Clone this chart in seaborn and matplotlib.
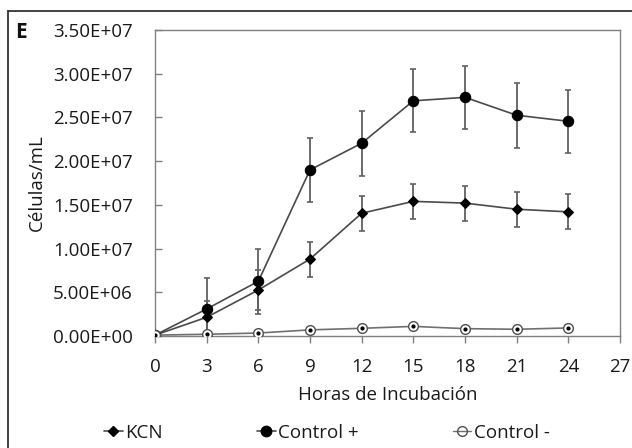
import matplotlib
matplotlib.use("Agg")
import matplotlib.pyplot as plt
import seaborn as sns
import numpy as np
import pandas as pd
from matplotlib.lines import Line2D
from matplotlib.ticker import FuncFormatter, MultipleLocator

hours = [0, 3, 6, 9, 12, 15, 18, 21, 24]
kcn = [1.0e5, 2.14e6, 5.26e6, 8.8e6, 1.404e7, 1.54e7, 1.52e7, 1.45e7, 1.42e7]
kcn_err = [0, 1.9e6, 2.3e6, 2.0e6, 2.0e6, 2.0e6, 2.0e6, 2.0e6, 2.0e6]
ctrl_pos = [1.0e5, 3.09e6, 6.26e6, 1.90e7, 2.205e7, 2.69e7, 2.73e7, 2.525e7, 2.456e7]
ctrl_pos_err = [0, 3.6e6, 3.7e6, 3.7e6, 3.7e6, 3.6e6, 3.6e6, 3.7e6, 3.6e6]
ctrl_neg = [1.0e5, 2.0e5, 3.4e5, 7.0e5, 8.8e5, 1.1e6, 8.4e5, 7.7e5, 9.2e5]
series_names = ["KCN", "Control +", "Control -"]
x_ticks = [0, 3, 6, 9, 12, 15, 18, 21, 24, 27]

sns.set_style("ticks")
plt.rcParams['font.family'] = ['Open Sans', 'DejaVu Sans']

FS = 13.5
TXT = "#1a1a1a"
W, H = 632, 448
fig = plt.figure(figsize=(W / 100, H / 100), dpi=100)
ax = fig.add_axes([155 / W, 1 - 336 / H, (620 - 155) / W, (336 - 30) / H])

df = pd.DataFrame({"h": hours, "KCN": kcn, "Control +": ctrl_pos, "Control -": ctrl_neg})

errc = "#606060"
for vals, errs in [(ctrl_pos, ctrl_pos_err), (kcn, kcn_err)]:
    ax.errorbar(hours[1:], vals[1:], yerr=errs[1:], fmt='none', ecolor=errc,
                elinewidth=1.3, capsize=2.0, capthick=1.2, zorder=2)

linec = "#4a4a4a"
sns.lineplot(data=df, x="h", y="KCN", ax=ax, color=linec, lw=1.2, marker='D',
             markersize=5, markerfacecolor='black', markeredgecolor='black', zorder=3)
sns.lineplot(data=df, x="h", y="Control +", ax=ax, color=linec, lw=1.2, marker='o',
             markersize=7.5, markerfacecolor='black', markeredgecolor='black', zorder=3)
sns.lineplot(data=df, x="h", y="Control -", ax=ax, color="#707070", lw=1.2, marker='o',
             markersize=7, markerfacecolor='white', markeredgecolor='#505050',
             markeredgewidth=1.0, zorder=3)
ax.plot(df["h"], df["Control -"], ls='none', marker='o', markersize=2, color='black', zorder=4)

ax.set_xlim(0, 27)
ax.set_ylim(0, 3.5e7)
ax.set_xticks(x_ticks)
ax.yaxis.set_major_locator(MultipleLocator(5e6))
ax.yaxis.set_major_formatter(FuncFormatter(lambda v, p: f"{v:.2E}"))
for s in ax.spines.values():
    s.set_visible(True)
    s.set_color("#808080")
    s.set_linewidth(1.0)
ax.tick_params(axis='both', width=1, color="#808080", labelsize=FS, labelcolor=TXT)
ax.tick_params(axis='y', direction='in', length=5, pad=16)
ax.tick_params(axis='x', direction='out', length=5, pad=11)
ax.set_xlabel("Horas de Incubación", fontsize=FS, color=TXT, labelpad=7)
ax.set_ylabel("Células/mL", fontsize=FS, color=TXT, labelpad=5)

# outer frame
fig.add_artist(Line2D([8 / W, 8 / W], [0, 1 - 11 / H], transform=fig.transFigure, color='#333333', lw=1.3))
fig.add_artist(Line2D([8 / W, 1], [1 - 11 / H, 1 - 11 / H], transform=fig.transFigure, color='#333333', lw=1.3))
fig.text(21 / W, 1 - 32 / H, "E", fontsize=15, fontweight='bold', ha='center', va='center', color='#111111')

handles = [
    Line2D([], [], color=linec, lw=1.2, marker='D', markersize=5, markerfacecolor='black', markeredgecolor='black'),
    Line2D([], [], color=linec, lw=1.2, marker='o', markersize=7.5, markerfacecolor='black', markeredgecolor='black'),
    Line2D([], [], color="#707070", lw=1.0, marker='o', markersize=7, markerfacecolor='none', markeredgecolor='#505050'),
]
fig.legend(handles, series_names, loc='center', bbox_to_anchor=(327 / W, 1 - 433 / H), ncol=3,
           frameon=False, fontsize=FS, handlelength=1.0, handletextpad=0.15, columnspacing=5.0,
           labelcolor=TXT)

fig.savefig("out.png", dpi=100)
